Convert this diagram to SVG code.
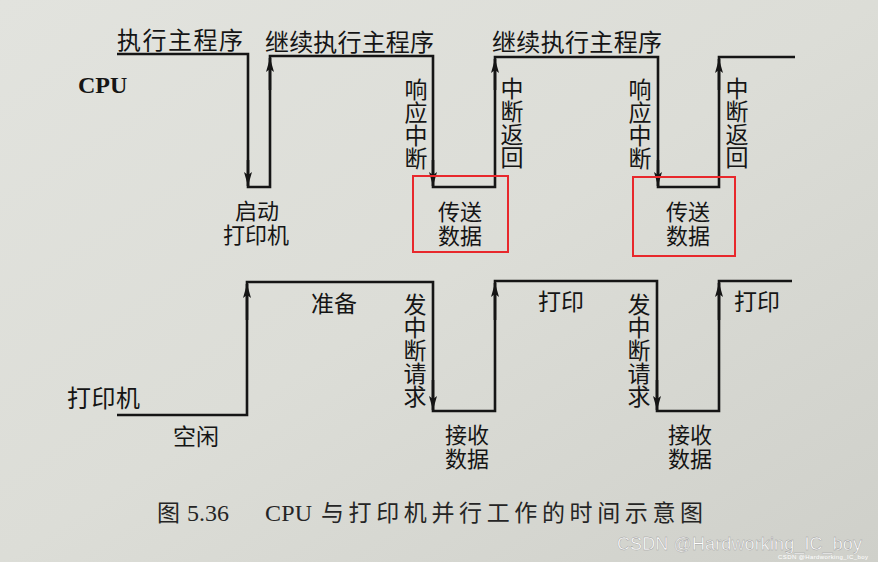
<svg xmlns="http://www.w3.org/2000/svg" width="878" height="562" viewBox="0 0 878 562">
<defs>
<linearGradient id="bg" x1="0" y1="0" x2="1" y2="1">
<stop offset="0" stop-color="#e2e3de"/>
<stop offset="0.5" stop-color="#dcddd7"/>
<stop offset="1" stop-color="#cfd0ca"/>
</linearGradient>
<marker id="ah" viewBox="0 0 14 8" refX="14" refY="4" markerWidth="14" markerHeight="8" markerUnits="userSpaceOnUse" orient="auto">
<path d="M0,0 L14,4 L0,8 L3,4 z" fill="#151515"/>
</marker>
<style>
.w{fill:none;stroke:#151515;stroke-width:2.6;stroke-linejoin:miter}
.t{font-family:"Noto Sans CJK SC","Noto Sans",sans-serif;font-size:23px;fill:#151515;dominant-baseline:central;text-anchor:middle}
.t2{font-family:"Noto Sans CJK SC","Noto Sans",sans-serif;font-size:22px;fill:#151515;dominant-baseline:central;text-anchor:middle}
.v{font-family:"Noto Sans CJK SC","Noto Sans",sans-serif;font-size:23px;fill:#151515;writing-mode:vertical-rl;text-orientation:upright;letter-spacing:0}
.h{font-family:"Noto Sans CJK SC","Noto Sans",sans-serif;font-size:24px;fill:#151515;dominant-baseline:central}
.box{fill:none;stroke:#e8282c;stroke-width:2}
.cap{font-family:"Liberation Serif","Noto Sans CJK SC",serif;font-size:24px;fill:#252525}
.capc{font-family:"Noto Sans CJK SC",serif;font-size:23px;fill:#252525}
</style>
</defs>
<rect width="878" height="562" fill="url(#bg)"/>

<g id="connectors">
<polyline class="w" points="117,54 248,54 248,187 270,187 270,56 433,56 433,187 495,187 495,57 658,57 658,187 719,187 719,57 795,57"/>
<polyline class="w" points="117,415 247,415 247,282 433,282 433,411 495,411 495,281 657,281 657,411 719,411 719,281 792,281"/>
<g stroke="#151515" stroke-width="2.6">
<line x1="248" y1="160" x2="248" y2="186" marker-end="url(#ah)"/>
<line x1="270" y1="90" x2="270" y2="58" marker-end="url(#ah)"/>
<line x1="433" y1="160" x2="433" y2="186" marker-end="url(#ah)"/>
<line x1="495" y1="90" x2="495" y2="59" marker-end="url(#ah)"/>
<line x1="658" y1="160" x2="658" y2="186" marker-end="url(#ah)"/>
<line x1="719" y1="90" x2="719" y2="59" marker-end="url(#ah)"/>
<line x1="247" y1="320" x2="247" y2="284" marker-end="url(#ah)"/>
<line x1="433" y1="380" x2="433" y2="410" marker-end="url(#ah)"/>
<line x1="495" y1="320" x2="495" y2="283" marker-end="url(#ah)"/>
<line x1="657" y1="380" x2="657" y2="410" marker-end="url(#ah)"/>
<line x1="719" y1="320" x2="719" y2="283" marker-end="url(#ah)"/>
</g>
</g>

<g id="cpu-label"><text x="78" y="93" font-family="Liberation Serif,serif" font-size="24" fill="#151515" font-weight="bold">CPU</text></g>
<g id="printer-label"><text class="h" x="67" y="396" textLength="73">打印机</text></g>

<g id="run-main"><text class="h" x="117" y="38" textLength="126">执行主程序</text></g>
<g id="continue-1"><text class="h" x="265" y="40" textLength="169">继续执行主程序</text></g>
<g id="continue-2"><text class="h" x="492" y="40" textLength="170">继续执行主程序</text></g>

<g id="start-printer">
<text class="t2"><tspan x="257" y="209">启动</tspan><tspan x="256" y="233">打印机</tspan></text>
</g>

<g id="respond-1"><text class="v" x="416" y="78">响应中断</text></g>
<g id="return-1"><text class="v" x="512" y="77">中断返回</text></g>
<g id="respond-2"><text class="v" x="640" y="78">响应中断</text></g>
<g id="return-2"><text class="v" x="737" y="77">中断返回</text></g>

<g id="transfer-1">
<rect class="box" x="413" y="176" width="95" height="76"/>
<text class="t2"><tspan x="460" y="210">传送</tspan><tspan x="460" y="234">数据</tspan></text>
</g>
<g id="transfer-2">
<rect class="box" x="633" y="177" width="102" height="79"/>
<text class="t2"><tspan x="688" y="210">传送</tspan><tspan x="688" y="234">数据</tspan></text>
</g>

<g id="idle"><text class="t" x="196" y="435">空闲</text></g>
<g id="prepare"><text class="t" x="334" y="302">准备</text></g>
<g id="print-1"><text class="t" x="561" y="300">打印</text></g>
<g id="print-2"><text class="t" x="757" y="300">打印</text></g>

<g id="irq-1"><text class="v" x="415" y="293">发中断请求</text></g>
<g id="irq-2"><text class="v" x="639" y="293">发中断请求</text></g>

<g id="receive-1">
<text class="t2"><tspan x="467" y="433">接收</tspan><tspan x="467" y="457">数据</tspan></text>
</g>
<g id="receive-2">
<text class="t2"><tspan x="690" y="433">接收</tspan><tspan x="690" y="457">数据</tspan></text>
</g>

<g id="caption">
<text class="capc" x="157" y="521">图</text>
<text class="cap" x="187" y="521" font-size="25">5.36</text>
<text class="cap" x="265" y="521" textLength="47">CPU</text>
<text class="capc" x="321" y="521" textLength="382">与打印机并行工作的时间示意图</text>
</g>

<g id="watermark">
<text x="617" y="550" font-family="Liberation Sans,sans-serif" font-size="18" fill="#ffffff" stroke="#9a9a9a" stroke-width="0.4" textLength="245">CSDN @Hardworking_IC_boy</text>
<text x="778" y="559" font-family="Liberation Sans,sans-serif" font-size="6" fill="#ffffff" textLength="90">CSDN @Hardworking_IC_boy</text>
</g>
</svg>
